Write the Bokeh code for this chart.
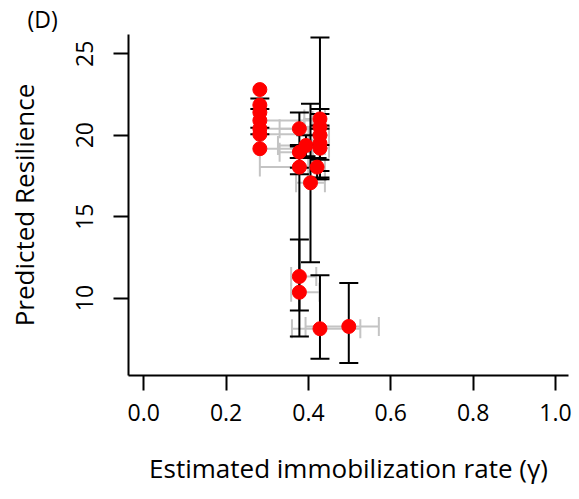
from bokeh.plotting import figure
from bokeh.models import (Range1d, FixedTicker, NumeralTickFormatter, Whisker,
                          TeeHead, ColumnDataSource)
from bokeh.embed import file_html
from bokeh.resources import INLINE

# Estimated immobilization rate (gamma) and predicted resilience per site
gamma = [0.282, 0.282, 0.282, 0.282, 0.282, 0.282, 0.282,
         0.378, 0.394, 0.378, 0.378, 0.405, 0.421,
         0.428, 0.428, 0.428, 0.428, 0.428,
         0.378, 0.378, 0.428, 0.498]
gamma_lo = [0.282, 0.282, 0.282, 0.282, 0.282, 0.282, 0.282,
            0.33, 0.326, 0.33, 0.282, 0.37, 0.40,
            0.39, 0.39, 0.40, 0.40, 0.41,
            0.358, 0.358, 0.36, 0.393]
gamma_hi = [0.282, 0.282, 0.29, 0.41, 0.43, 0.44, 0.41,
            0.42, 0.44, 0.41, 0.40, 0.44, 0.44,
            0.44, 0.44, 0.45, 0.44, 0.45,
            0.419, 0.427, 0.526, 0.571]
resil = [22.8, 21.85, 21.4, 20.9, 20.4, 20.05, 19.17,
         20.4, 19.37, 18.96, 18.04, 17.08, 18.04,
         21.0, 20.5, 20.0, 19.5, 19.2,
         11.33, 10.36, 8.12, 8.26]
resil_lo = [22.8, 21.6, 21.4, 20.9, 20.4, 20.05, 19.17,
            19.3, 18.7, 18.6, 17.6, 12.2, 17.3,
            17.3, 19.4, 18.5, 17.8, 17.4,
            9.24, 7.65, 6.28, 6.01]
resil_hi = [22.8, 22.25, 21.4, 20.9, 20.4, 20.45, 19.17,
            21.4, 20.0, 19.4, 18.6, 21.93, 18.6,
            26.0, 21.6, 21.3, 20.6, 20.4,
            18.0, 13.6, 11.4, 10.92]

x_ticks = [0.0, 0.2, 0.4, 0.6, 0.8, 1.0]
y_ticks = [10, 15, 20, 25]

src = ColumnDataSource(dict(x=gamma, y=resil))

# error bars are only drawn where the interval has a length
xi = [i for i in range(len(gamma)) if gamma_hi[i] > gamma_lo[i]]
yi = [i for i in range(len(resil)) if resil_hi[i] > resil_lo[i]]
xsrc = ColumnDataSource(dict(y=[resil[i] for i in xi],
                             lo=[gamma_lo[i] for i in xi],
                             hi=[gamma_hi[i] for i in xi]))
ysrc = ColumnDataSource(dict(x=[gamma[i] for i in yi],
                             lo=[resil_lo[i] for i in yi],
                             hi=[resil_hi[i] for i in yi]))

FONT = "Open Sans"

p = figure(width=579, height=499, output_backend="svg", toolbar_location=None,
           x_range=Range1d(-0.037, 1.0316), y_range=Range1d(5.25, 26.18),
           min_border_left=128, min_border_right=11, min_border_top=23,
           min_border_bottom=124)
p.background_fill_color = "white"
p.border_fill_color = "white"
p.outline_line_color = None
p.xgrid.visible = False
p.ygrid.visible = False

p.title.text = "(D)"
p.title.align = "left"
p.title.offset = -101
p.title.standoff = 0
p.title.text_font = FONT
p.title.text_font_size = "23px"
p.title.text_font_style = "normal"
p.title.text_color = "black"

GRAY = "#c4c4c4"
gray_w = Whisker(source=xsrc, base="y", lower="lo", upper="hi", dimension="width",
                 line_color=GRAY, line_width=2, level="underlay",
                 lower_head=TeeHead(size=19, line_color=GRAY, line_width=2),
                 upper_head=TeeHead(size=19, line_color=GRAY, line_width=2))
black_w = Whisker(source=ysrc, base="x", lower="lo", upper="hi", dimension="height",
                  line_color="black", line_width=2, level="underlay",
                  lower_head=TeeHead(size=19, line_color="black", line_width=2),
                  upper_head=TeeHead(size=19, line_color="black", line_width=2))
p.add_layout(gray_w)
p.add_layout(black_w)

p.scatter("x", "y", source=src, size=14, fill_color="#ff0000", line_color="#ff0000")

for ax in (p.xaxis[0], p.yaxis[0]):
    ax.axis_line_color = "black"
    ax.axis_line_width = 2
    ax.major_tick_line_color = "black"
    ax.major_tick_line_width = 2
    ax.major_tick_out = 15
    ax.major_tick_in = 0
    ax.minor_tick_line_color = None
    ax.major_label_text_font = FONT
    ax.major_label_text_font_size = "23px"
    ax.major_label_text_color = "black"
    ax.axis_label_text_font = FONT
    ax.axis_label_text_font_size = "26px"
    ax.axis_label_text_font_style = "normal"
    ax.axis_label_text_color = "black"

p.xaxis.ticker = FixedTicker(ticks=x_ticks)
p.xaxis.formatter = NumeralTickFormatter(format="0.0")
p.xaxis.major_label_standoff = 13
p.xaxis.axis_label = "Estimated immobilization rate (γ)"
p.xaxis.axis_label_standoff = 26

p.yaxis.ticker = FixedTicker(ticks=y_ticks)
p.yaxis.major_label_orientation = "vertical"
p.yaxis.major_label_standoff = 20
p.yaxis.axis_label = "Predicted Resilience"
p.yaxis.axis_label_standoff = 32

open("out.html", "w").write(file_html(p, INLINE))
